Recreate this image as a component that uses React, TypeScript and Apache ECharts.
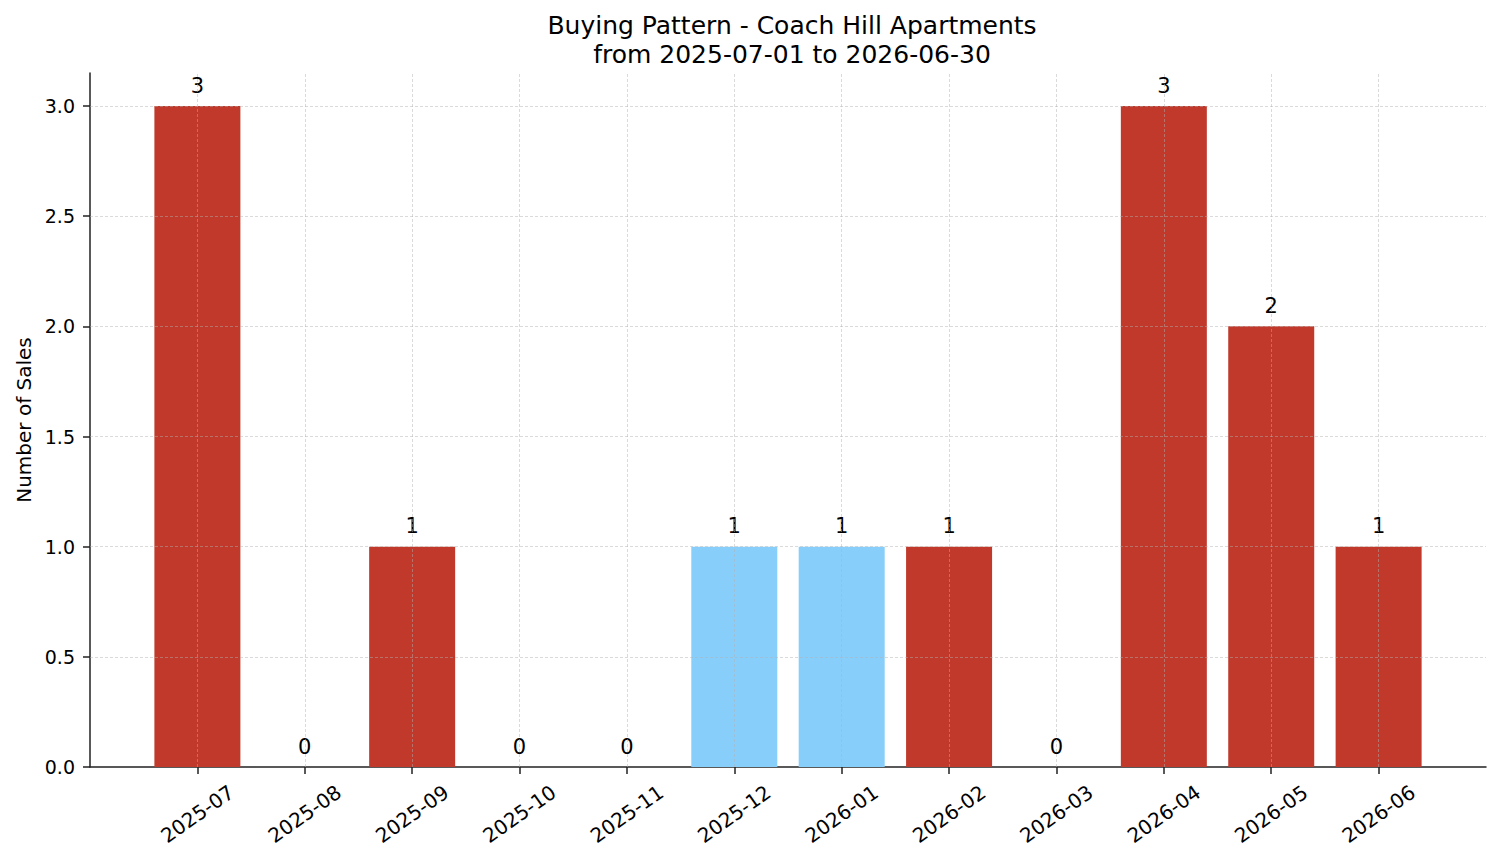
import React, { useEffect, useRef } from "react";
import * as echarts from "echarts";

// Monthly sales counts
const months = [
  "2025-07", "2025-08", "2025-09", "2025-10", "2025-11", "2025-12",
  "2026-01", "2026-02", "2026-03", "2026-04", "2026-05", "2026-06",
];
const sales = [3, 0, 1, 0, 0, 1, 1, 1, 0, 3, 2, 1];
const highlightedMonths = ["2025-12", "2026-01"];
const yTicks = [0, 0.5, 1.0, 1.5, 2.0, 2.5, 3.0];

const RED = "#c0392b";
const BLUE = "#87cefa";
const FONT = "DejaVu Sans";

export default function App() {
  const ref = useRef<HTMLDivElement>(null);

  useEffect(() => {
    if (!ref.current) return;
    const chart = echarts.init(ref.current, null, { renderer: "svg" });
    const xIdx = months.map((_, i) => i);

    chart.setOption({
      animation: false,
      backgroundColor: "#ffffff",
      textStyle: { fontFamily: FONT, color: "#000" },
      title: {
        text: "Buying Pattern - Coach Hill Apartments\nfrom 2025-07-01 to 2026-06-30",
        left: 787,
        top: 6,
        textAlign: "center",
        textStyle: {
          fontFamily: FONT,
          fontSize: 25,
          fontWeight: "normal",
          color: "#000",
          lineHeight: 29,
        },
      },
      grid: {
        left: 90,
        right: 15,
        top: 73,
        bottom: 96,
        containLabel: false,
        outerBoundsMode: "none",
      },
      xAxis: {
        type: "value",
        min: -1,
        max: 12,
        axisLine: { show: true, onZero: false, lineStyle: { color: "#222", width: 1.5 } },
        axisTick: {
          show: true,
          length: 7,
          customValues: xIdx,
          lineStyle: { color: "#222", width: 1.5 },
        },
        axisLabel: {
          customValues: xIdx,
          formatter: (v: number) => months[v] ?? "",
          rotate: 35,
          align: "center",
          verticalAlign: "middle",
          margin: 47,
          fontSize: 20,
          fontFamily: FONT,
          color: "#000",
        },
        splitLine: { show: false },
      },
      yAxis: {
        type: "value",
        min: 0,
        max: 3.15,
        name: "Number of Sales",
        nameLocation: "middle",
        nameGap: 56,
        nameTextStyle: { fontSize: 20, fontFamily: FONT, color: "#000" },
        axisLine: { show: true, onZero: false, lineStyle: { color: "#222", width: 1.5 } },
        axisTick: {
          show: true,
          length: 7,
          customValues: yTicks,
          lineStyle: { color: "#222", width: 1.5 },
        },
        axisLabel: {
          customValues: yTicks,
          formatter: (v: number) => v.toFixed(1),
          margin: 15,
          fontSize: 19,
          fontFamily: FONT,
          color: "#000",
        },
        splitLine: { show: false },
      },
      series: [
        {
          type: "bar",
          barWidth: 86,
          data: sales.map((v, i) => ({
            value: [i, v],
            itemStyle: {
              color: highlightedMonths.includes(months[i]) ? BLUE : RED,
            },
          })),
          label: {
            show: true,
            position: "top",
            distance: 10,
            fontSize: 21,
            fontFamily: FONT,
            color: "#000",
            formatter: (p: any) => String(p.value[1]),
          },
          // dashed grid drawn above the bars
          markLine: {
            silent: true,
            symbol: "none",
            z: 5,
            label: { show: false },
            lineStyle: {
              type: [3, 2],
              color: "#b0b0b0",
              width: 0.8,
              opacity: 0.6,
            },
            emphasis: { disabled: true },
            data: [
              ...yTicks.filter((v) => v > 0).map((v) => ({ yAxis: v })),
              ...xIdx.map((i) => ({ xAxis: i })),
            ],
          },
        },
      ],
    });

    return () => chart.dispose();
  }, []);

  return (
    <div
      ref={ref}
      style={{
        position: "absolute",
        left: 0,
        top: 0,
        width: 1501,
        height: 863,
        background: "#fff",
      }}
    />
  );
}
